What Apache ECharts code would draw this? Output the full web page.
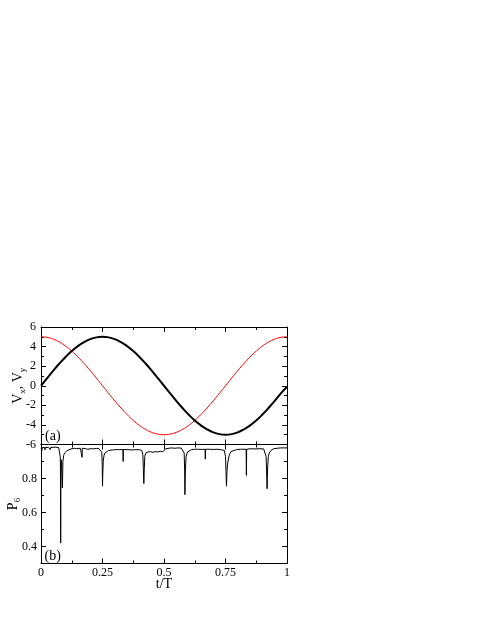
<!DOCTYPE html>
<html>
<head>
<meta charset="utf-8">
<script src="https://cdn.jsdelivr.net/npm/echarts@6/dist/echarts.min.js"></script>
<style>
  html, body { margin: 0; padding: 0; background: #fff; }
  #chart { width: 485px; height: 627px; }
</style>
</head>
<body>
<div id="chart"></div>
<script>
// time in units of the period, panel (a)
const tSteps = [0, 0.025, 0.05, 0.075, 0.1, 0.125, 0.15, 0.175, 0.2, 0.225, 0.25,
  0.275, 0.3, 0.325, 0.35, 0.375, 0.4, 0.425, 0.45, 0.475, 0.5,
  0.525, 0.55, 0.575, 0.6, 0.625, 0.65, 0.675, 0.7, 0.725, 0.75,
  0.775, 0.8, 0.825, 0.85, 0.875, 0.9, 0.925, 0.95, 0.975, 1]
// V_x (black)
const vx = [0, 0.78, 1.55, 2.27, 2.94, 3.54, 4.05, 4.46, 4.76, 4.94, 5,
  4.94, 4.76, 4.46, 4.05, 3.54, 2.94, 2.27, 1.55, 0.78, 0,
  -0.78, -1.55, -2.27, -2.94, -3.54, -4.05, -4.46, -4.76, -4.94, -5,
  -4.94, -4.76, -4.46, -4.05, -3.54, -2.94, -2.27, -1.55, -0.78, -0.1]
// V_y (red)
const vy = [5, 4.94, 4.76, 4.46, 4.05, 3.54, 2.94, 2.27, 1.55, 0.78, 0,
  -0.78, -1.55, -2.27, -2.94, -3.54, -4.05, -4.46, -4.76, -4.94, -5,
  -4.94, -4.76, -4.46, -4.05, -3.54, -2.94, -2.27, -1.55, -0.78, 0,
  0.78, 1.55, 2.27, 2.94, 3.54, 4.05, 4.46, 4.76, 4.94, 5]
// panel (b): [t/T, P6]
const p6 = [
  [0.000, 0.980], [0.003, 0.980], [0.004, 0.965], [0.005, 0.982], [0.015, 0.982],
  [0.016, 0.968], [0.017, 0.982], [0.030, 0.983], [0.037, 0.983], [0.038, 0.970],
  [0.039, 0.983], [0.043, 0.983], [0.044, 0.972], [0.045, 0.983], [0.060, 0.984],
  [0.072, 0.982], [0.076, 0.975], [0.078, 0.930], [0.079, 0.880], [0.080, 0.420],
  [0.081, 0.860], [0.083, 0.910], [0.085, 0.900], [0.087, 0.745], [0.089, 0.900],
  [0.092, 0.935], [0.096, 0.950], [0.100, 0.955], [0.105, 0.962], [0.110, 0.968],
  [0.118, 0.972], [0.125, 0.976], [0.135, 0.978], [0.145, 0.975], [0.150, 0.978],
  [0.160, 0.978], [0.166, 0.978], [0.167, 0.925], [0.168, 0.978], [0.180, 0.976],
  [0.190, 0.972], [0.191, 0.978], [0.205, 0.976], [0.215, 0.974], [0.225, 0.977],
  [0.235, 0.976], [0.243, 0.972], [0.247, 0.955], [0.249, 0.880], [0.250, 0.755],
  [0.251, 0.820], [0.253, 0.900], [0.256, 0.935], [0.260, 0.950], [0.266, 0.958],
  [0.275, 0.965], [0.290, 0.968], [0.305, 0.970], [0.320, 0.970], [0.333, 0.970],
  [0.334, 0.900], [0.335, 0.970], [0.350, 0.970], [0.370, 0.968], [0.385, 0.970],
  [0.400, 0.969], [0.410, 0.965], [0.414, 0.940], [0.416, 0.860], [0.418, 0.770],
  [0.420, 0.860], [0.422, 0.930], [0.426, 0.950], [0.435, 0.956], [0.445, 0.958],
  [0.455, 0.954], [0.465, 0.958], [0.475, 0.956], [0.485, 0.960], [0.495, 0.957],
  [0.503, 0.958], [0.507, 0.975], [0.515, 0.980], [0.530, 0.980], [0.545, 0.978],
  [0.555, 0.980], [0.570, 0.979], [0.578, 0.975], [0.582, 0.950], [0.584, 0.850],
  [0.585, 0.705], [0.587, 0.850], [0.590, 0.930], [0.595, 0.955], [0.602, 0.965],
  [0.612, 0.970], [0.625, 0.972], [0.640, 0.972], [0.655, 0.971], [0.667, 0.972],
  [0.668, 0.914], [0.669, 0.972], [0.685, 0.972], [0.700, 0.971], [0.715, 0.972],
  [0.730, 0.970], [0.745, 0.965], [0.750, 0.930], [0.752, 0.840], [0.754, 0.755],
  [0.756, 0.840], [0.758, 0.880], [0.762, 0.915], [0.766, 0.940], [0.772, 0.958],
  [0.780, 0.965], [0.795, 0.970], [0.810, 0.972], [0.825, 0.972], [0.834, 0.972],
  [0.835, 0.818], [0.836, 0.972], [0.850, 0.975], [0.870, 0.974], [0.890, 0.975],
  [0.905, 0.974], [0.912, 0.968], [0.915, 0.930], [0.917, 0.850], [0.919, 0.740],
  [0.921, 0.850], [0.924, 0.930], [0.928, 0.950], [0.935, 0.965], [0.945, 0.975],
  [0.960, 0.978], [0.975, 0.980], [0.990, 0.980], [1.000, 0.980]
]
const p6Major = [0.4, 0.6, 0.8]
const p6Minor = [0.5, 0.7, 0.9]

const font = 'Liberation Serif'
const black = '#000'

// plain frame axis: line + inward ticks, no labels
function frameAxis(extra) {
  return Object.assign({
    type: 'value',
    nameMoveOverlap: false,
    axisLine: { show: true, onZero: false, lineStyle: { color: black, width: 1 } },
    axisTick: { show: true, inside: true, length: 5, lineStyle: { color: black } },
    minorTick: { show: true, splitNumber: 2, length: 3, lineStyle: { color: black } },
    splitLine: { show: false },
    axisLabel: { show: false },
  }, extra)
}

const xBase = { min: 0, max: 1, interval: 0.25 }
const labelStyle = { show: true, fontFamily: font, fontSize: 12, color: black }

const xAxis = [
  frameAxis({ ...xBase, gridIndex: 0, position: 'bottom' }),
  frameAxis({ ...xBase, gridIndex: 0, position: 'top' }),
  frameAxis({
    ...xBase, gridIndex: 1, position: 'bottom',
    axisLabel: { ...labelStyle, margin: 3 },
    name: 't/T', nameLocation: 'middle', nameGap: 14,
    nameTextStyle: { fontFamily: font, fontSize: 14, color: black },
  }),
  frameAxis({ ...xBase, gridIndex: 1, position: 'top' }),
]

const vyBase = { min: -6, max: 6, interval: 2 }
const p6Base = { min: 0.3, max: 1.0 }
const nameRich = {
  a: { fontFamily: font, fontSize: 14, color: black, lineHeight: 20 },
  s: { fontFamily: font, fontSize: 9, color: black, lineHeight: 20, padding: [9, 0, 0, 0] },
}

function p6Ticks(position, values, len, withLabel) {
  return frameAxis({
    ...p6Base, gridIndex: 1, position,
    axisTick: { show: true, inside: true, length: len, customValues: values, lineStyle: { color: black } },
    minorTick: { show: false },
    axisLabel: withLabel
      ? { ...labelStyle, margin: 4, customValues: values, formatter: v => v.toFixed(1) }
      : { show: false },
  })
}

const yAxis = [
  frameAxis({
    ...vyBase, gridIndex: 0, position: 'left',
    axisLabel: { ...labelStyle, margin: 5 },
    name: '{a|V}{s|x}{a|, V}{s|y}', nameLocation: 'middle', nameGap: 13,
    nameTextStyle: { rich: nameRich },
  }),
  frameAxis({ ...vyBase, gridIndex: 0, position: 'right' }),
  Object.assign(p6Ticks('left', p6Major, 5, true), {
    name: '{a|P}{s|6}', nameLocation: 'middle', nameGap: 18,
    nameTextStyle: { rich: nameRich },
  }),
  p6Ticks('left', p6Minor, 3, false),
  p6Ticks('right', p6Major, 5, false),
  p6Ticks('right', p6Minor, 3, false),
]

const option = {
  animation: false,
  backgroundColor: '#fff',
  grid: [
    { left: 41, top: 327, width: 246, height: 117.5, outerBoundsMode: 'none' },
    { left: 41, top: 444.5, width: 246, height: 119, outerBoundsMode: 'none' },
  ],
  xAxis,
  yAxis,
  series: [
    {
      name: 'Vy', type: 'line', xAxisIndex: 0, yAxisIndex: 0, smooth: true,
      showSymbol: false, lineStyle: { color: '#ff0000', width: 1 },
      data: tSteps.map((t, i) => [t, vy[i]]),
    },
    {
      name: 'Vx', type: 'line', xAxisIndex: 0, yAxisIndex: 0, smooth: true,
      showSymbol: false, lineStyle: { color: black, width: 2 },
      data: tSteps.map((t, i) => [t, vx[i]]),
    },
    {
      name: 'P6', type: 'line', xAxisIndex: 2, yAxisIndex: 2,
      showSymbol: false, lineStyle: { color: black, width: 1 },
      data: p6,
    },
  ],
  graphic: [
    { type: 'text', x: 45, y: 436, style: { text: '(a)', font: '14px "Liberation Serif"', fill: black, textVerticalAlign: 'middle' } },
    { type: 'text', x: 44.5, y: 556.5, style: { text: '(b)', font: '14px "Liberation Serif"', fill: black, textVerticalAlign: 'middle' } },
  ],
}

const chart = echarts.init(document.getElementById('chart'))
chart.setOption(option)
</script>
</body>
</html>
